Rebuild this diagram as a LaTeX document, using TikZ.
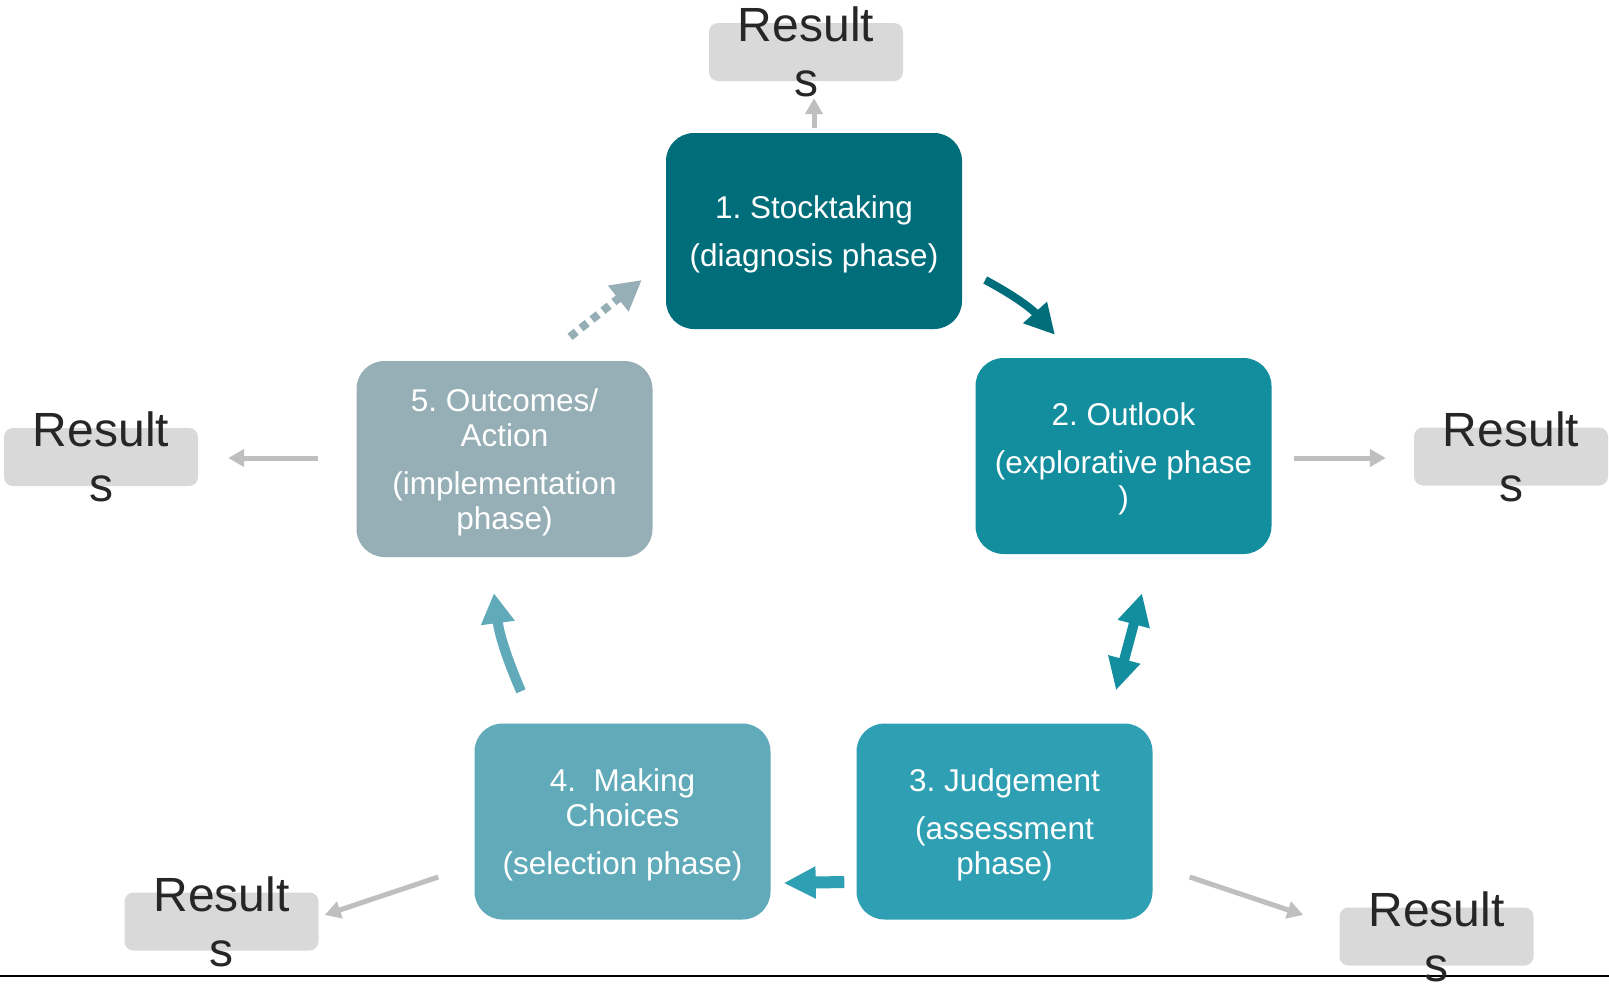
\documentclass[tikz,border=0pt]{standalone}
\usepackage{fontspec}
\setmainfont{Liberation Sans}
\usetikzlibrary{arrows.meta}
\definecolor{cone}{RGB}{0,110,122}
\definecolor{ctwo}{RGB}{19,142,158}
\definecolor{cthree}{RGB}{47,160,180}
\definecolor{cfour}{RGB}{96,170,185}
\definecolor{cfive}{RGB}{150,175,182}
\definecolor{rgray}{RGB}{217,217,217}
\definecolor{agray}{RGB}{191,191,191}
\definecolor{rtext}{RGB}{38,38,38}
\frenchspacing
\newcommand{\topstrut}{\rule{0pt}{29pt}}
\begin{document}
\begin{tikzpicture}[x=1pt,y=-1pt,
 phase/.style={rounded corners=28pt, minimum width=296pt, minimum height=196pt, inner sep=0pt, text=white, align=center, font=\fontsize{31.5}{35}\selectfont},
 resbox/.style={fill=rgray, rounded corners=9pt, minimum width=194pt, minimum height=58pt, inner sep=0pt},
 restext/.style={inner sep=0pt, text=rtext, align=center, font=\fontsize{48}{55}\selectfont},
 resarrow/.style={draw=agray, line width=5pt, -{Triangle[length=16pt,width=17pt]}},
 flow/.style={line width=10pt, -{Triangle[length=32pt,width=31pt]}}]
\useasboundingbox (0,0) rectangle (1609,986);
\fill[white] (0,0) rectangle (1609,986);
\draw[line width=1.5pt] (0,976) -- (1609,976);

\node[phase, fill=cone]   (p1) at (814,231)    {\topstrut 1. Stocktaking\\[13pt](diagnosis phase)};
\node[phase, fill=ctwo]   (p2) at (1123.5,456) {\topstrut 2. Outlook\\[13pt](explorative phase\\)};
\node[phase, fill=cthree] (p3) at (1004.5,821.5) {\topstrut 3. Judgement\\[13pt](assessment\\phase)};
\node[phase, fill=cfour]  (p4) at (622.5,821.5) {\topstrut 4.~~Making\\Choices\\[13pt](selection phase)};
\node[phase, fill=cfive]  (p5) at (504.5,459)  {\topstrut 5. Outcomes/\\Action\\[13pt](implementation\\phase)};

\node[resbox] (rT)  at (806,52)      {};
\node[resbox] (rL)  at (101,457)     {};
\node[resbox] (rR)  at (1511,456.5)  {};
\node[resbox] (rBL) at (221.5,921.5) {};
\node[resbox] (rBR) at (1436.5,936.5) {};
\node[restext] (tT)  at (rT)  {Result\\s};
\node[restext] (tL)  at (rL)  {Result\\s};
\node[restext] (tR)  at (rR)  {Result\\s};
\node[restext] (tBL) at (rBL) {Result\\s};
\node[restext] (tBR) at (rBR) {Result\\s};

% result arrows
\draw[resarrow] ([yshift=5pt]p1.north) -- ([xshift=8pt,yshift=-17pt]rT.south);
\draw[resarrow] ([xshift=-38pt,yshift=1pt]p5.west) -- ([xshift=30pt,yshift=-1pt]rL.east);
\draw[resarrow] ([xshift=22pt,yshift=-2pt]p2.east) -- ([xshift=-28pt,yshift=-1.5pt]rR.west);
\draw[resarrow] ([xshift=-36pt,yshift=-55.5pt]p4.west) -- ([xshift=6pt,yshift=6.5pt]rBL.east);
\draw[resarrow] ([xshift=37pt,yshift=-55.5pt]p3.east) -- ([xshift=-36pt,yshift=21.5pt]rBR.west);

% flow arrows
\draw[flow, cone, line width=8pt, -{Triangle[length=30pt,width=30pt]}]
  ([xshift=23pt,yshift=-49pt]p1.east) to[bend left=10] ([xshift=-68.5pt,yshift=23pt]p2.north);
\draw[flow, ctwo, {Triangle[length=32pt,width=31pt]}-{Triangle[length=32pt,width=31pt]}]
  ([xshift=18.5pt,yshift=-39pt]p2.south) -- ([xshift=111.5pt,yshift=33pt]p3.north);
\draw[flow, cthree, line width=12pt, -{Triangle[length=32pt,width=30pt]}]
  ([xshift=-12pt,yshift=-60.5pt]p3.west) -- ([xshift=13pt,yshift=-61.5pt]p4.east);
\draw[flow, cfour, -{Triangle[length=30pt,width=32pt]}]
  ([xshift=-101.5pt,yshift=32pt]p4.north) to[bend left=8] ([xshift=-10.5pt,yshift=-36pt]p5.south);
\draw[flow, cfive, line width=8pt, dash pattern=on 8pt off 6pt, -{Triangle[length=30pt,width=31pt]}]
  ([xshift=65.5pt,yshift=24pt]p5.north) -- ([xshift=-24pt,yshift=-49pt]p1.west);
\end{tikzpicture}
\end{document}
